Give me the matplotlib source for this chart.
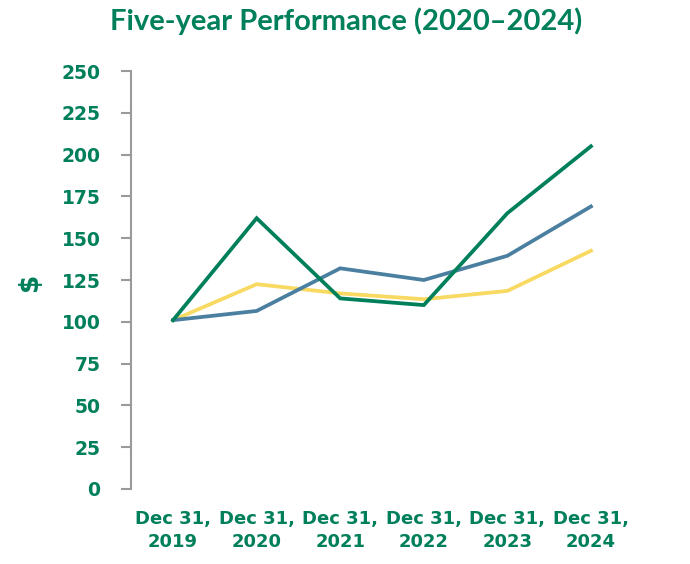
import matplotlib.pyplot as plt

# data
dates = ["Dec 31,\n2019", "Dec 31,\n2020", "Dec 31,\n2021", "Dec 31,\n2022", "Dec 31,\n2023", "Dec 31,\n2024"]
green = [101, 162, 114, 110, 165, 205]
blue = [101, 106.5, 132, 125, 139.5, 169]
yellow = [101, 122.5, 117, 113.5, 118.5, 142.5]
yticks = [0, 25, 50, 75, 100, 125, 150, 175, 200, 225, 250]

GREEN = "#007f5b"
BLUE = "#4a7fa0"
YELLOW = "#f8d962"
GRAY = "#9a9a9a"

plt.rcParams['font.family'] = ['DejaVu Sans']

fig = plt.figure(figsize=(6.9, 5.64), dpi=100)
ax = fig.add_axes([0.19, 0.133, 0.767, 0.741])

x = list(range(len(dates)))
ax.plot(x, yellow, color=YELLOW, lw=2.7, solid_joinstyle='miter')
ax.plot(x, blue, color=BLUE, lw=2.7, solid_joinstyle='miter')
ax.plot(x, green, color=GREEN, lw=2.7, solid_joinstyle='miter')

ax.set_xlim(-0.502, 5.83)
ax.set_ylim(0, 250)
ax.set_yticks(yticks)
ax.set_xticks(x)
ax.set_xticklabels(dates)

for s in ['top', 'right', 'bottom']:
    ax.spines[s].set_visible(False)
ax.spines['left'].set_color(GRAY)
ax.spines['left'].set_linewidth(1.5)

ax.tick_params(axis='y', length=7, width=1.5, color=GRAY, pad=15,
               labelsize=13.5, labelcolor=GREEN)
ax.tick_params(axis='x', length=0, pad=15, labelsize=13, labelcolor=GREEN)
for lab in ax.get_yticklabels() + ax.get_xticklabels():
    lab.set_fontweight('bold')
for lab in ax.get_xticklabels():
    lab.set_linespacing(1.35)

fig.text(30 / 690, 1 - 282 / 564, "$", rotation=90, ha='center', va='center',
         color=GREEN, fontsize=19, fontweight='bold')

fig.text(0.502, 0.962, "Five-year Performance (2020\u20132024)", ha='center', va='center',
         color=GREEN, fontsize=21, fontweight='bold', family='Lato')

fig.savefig("out.png", dpi=100)
